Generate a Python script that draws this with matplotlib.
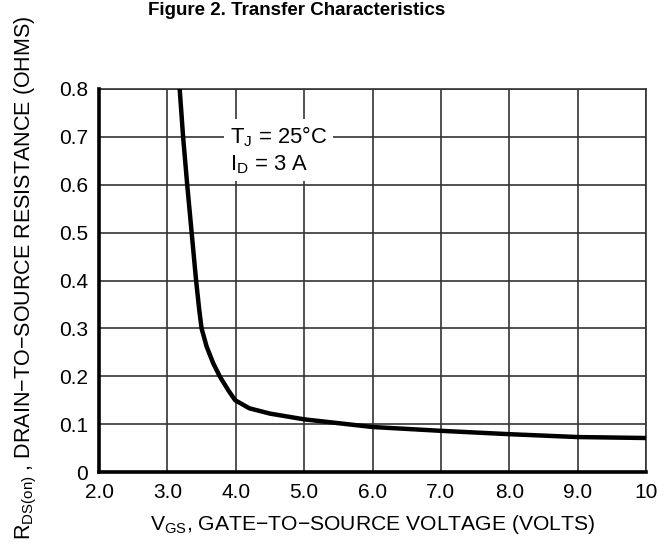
import matplotlib
matplotlib.use('Agg')
import matplotlib.pyplot as plt

plt.rcParams['font.family'] = ['Liberation Sans', 'DejaVu Sans']
plt.rcParams['mathtext.fontset'] = 'custom'
plt.rcParams['mathtext.rm'] = 'Liberation Sans'

# data
vgs = [3.18, 3.23, 3.29, 3.355, 3.42, 3.465, 3.50, 3.574, 3.671, 3.769, 3.89, 3.99,
       4.2, 4.5, 5.0, 6.0, 7.0, 8.0, 9.0, 10.0]
rds = [0.80, 0.70, 0.60, 0.50, 0.40, 0.34, 0.30, 0.262, 0.227, 0.199, 0.171, 0.150,
       0.133, 0.122, 0.110, 0.094, 0.086, 0.079, 0.073, 0.071]

x_ticks = [2, 3, 4, 5, 6, 7, 8, 9, 10]
x_labels = ['2.0', '3.0', '4.0', '5.0', '6.0', '7.0', '8.0', '9.0', '10']
y_ticks = [0, 0.1, 0.2, 0.3, 0.4, 0.5, 0.6, 0.7, 0.8]
y_labels = ['0', '0.1', '0.2', '0.3', '0.4', '0.5', '0.6', '0.7', '0.8']

fig = plt.figure(figsize=(6.68, 5.46), dpi=100)
ax = fig.add_axes([99 / 668, 1 - 472 / 546, (646 - 99) / 668, (472 - 89) / 546])

ax.plot(vgs, rds, color='black', linewidth=3.2, solid_capstyle='butt',
        solid_joinstyle='round', zorder=3)

ax.set_xlim(2, 10)
ax.set_ylim(0, 0.8)
ax.set_xticks(x_ticks)
ax.set_xticklabels(x_labels)
ax.set_yticks(y_ticks)
ax.set_yticklabels(y_labels)
ax.tick_params(length=0, labelsize=15, pad=8)
ax.grid(True, color='#333333', linewidth=1.2)

for s in ['top', 'right']:
    ax.spines[s].set_linewidth(1.2)
    ax.spines[s].set_color('#333333')
for s in ['left', 'bottom']:
    ax.spines[s].set_linewidth(2.6)
    ax.spines[s].set_zorder(4)

ax.text(3.915, 0.672, '$\\mathregular{T_J}$ = 25°C\n$\\mathregular{I_D}$ = 3 A',
        fontsize=15.8, va='center', ha='left', linespacing=1.25,
        bbox=dict(facecolor='white', edgecolor='none', pad=4), zorder=5)

fig.text(297 / 668, 1 - 15 / 546, 'Figure 2. Transfer Characteristics',
         fontsize=13.5, fontweight='bold', ha='center', va='baseline')
fig.text(373 / 668, 1 - 524 / 546,
         '$\\mathregular{V_{GS}}$, GATE\u2212TO\u2212SOURCE VOLTAGE (VOLTS)',
         fontsize=15.2, ha='center', va='center')
fig.text(26 / 668, 1 - 278 / 546,
         '$\\mathregular{R_{DS(on)}}$ , DRAIN\u2212TO\u2212SOURCE RESISTANCE (OHMS)',
         fontsize=15.5, ha='center', va='center', rotation=90)

fig.savefig('out.png', dpi=100)
